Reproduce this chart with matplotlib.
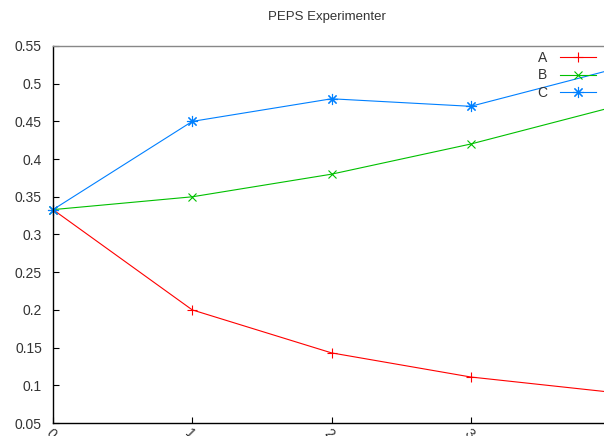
import matplotlib
matplotlib.use("Agg")
import matplotlib.pyplot as plt

plt.rcParams['font.family'] = ['Liberation Sans', 'DejaVu Sans']

x = [0, 1, 2, 3, 4]
series_a = [0.333, 0.2, 0.143, 0.111, 0.091]
series_b = [0.333, 0.35, 0.38, 0.42, 0.468]
series_c = [0.333, 0.45, 0.48, 0.47, 0.518]
labels = ['A', 'B', 'C']
yticks = [0.05, 0.1, 0.15, 0.2, 0.25, 0.3, 0.35, 0.4, 0.45, 0.5, 0.55]
ytick_labels = ['0.05', '0.1', '0.15', '0.2', '0.25', '0.3', '0.35', '0.4', '0.45', '0.5', '0.55']
xticks = [0, 1, 2, 3, 4]

W, H = 604, 436
fig = plt.figure(figsize=(W / 100, H / 100), dpi=100)
left, right, top, bottom = 53, 610, 46, 423
ax = fig.add_axes([left / W, (H - bottom) / H, (right - left) / W, (bottom - top) / H])

colors = ['#ff0000', '#00c000', '#0080ff']
markers = ['+', 'x', (8, 2, 0)]
sizes = [7, 6, 8]
lines = []
for ys, c, m, s, lab in zip([series_a, series_b, series_c], colors, markers, sizes, labels):
    l, = ax.plot(x, ys, color=c, lw=0.8, marker=m, ms=s, mew=0.8, label=lab, clip_on=False)
    lines.append(l)

ax.set_xlim(0, 4)
ax.set_ylim(0.05, 0.55)
ax.set_yticks(yticks)
ax.set_yticklabels(ytick_labels, fontsize=10, color='#333333')
ax.set_xticks(xticks)
ax.set_xticklabels([str(v) for v in xticks], fontsize=10, color='#333333',
                   rotation=-45, ha='left', va='top', rotation_mode='anchor')
ax.tick_params(direction='in', length=4, width=0.8, top=False, right=False, pad=8)
ax.tick_params(axis='x', pad=2)
for lab in ax.get_xticklabels():
    lab.set_x(lab.get_position()[0])
for s in ['left', 'bottom']:
    ax.spines[s].set_color('black')
    ax.spines[s].set_linewidth(1.0)
ax.spines['top'].set_color('#888888')
ax.spines['top'].set_linewidth(1.0)
ax.spines['right'].set_visible(False)

fig.text(327 / W, 1 - 17 / H, 'PEPS Experimenter', ha='center', va='center', fontsize=9.5, color='#333333')

leg = ax.legend(handles=lines, loc='upper right', bbox_to_anchor=(596 / W, 1 - 51 / H),
                bbox_transform=fig.transFigure, frameon=False, markerfirst=False,
                fontsize=10, handlelength=2.6, handletextpad=0.9, labelspacing=0.25,
                borderaxespad=0, borderpad=0)
for t in leg.get_texts():
    t.set_color('#333333')

fig.savefig('out.png', dpi=100)
